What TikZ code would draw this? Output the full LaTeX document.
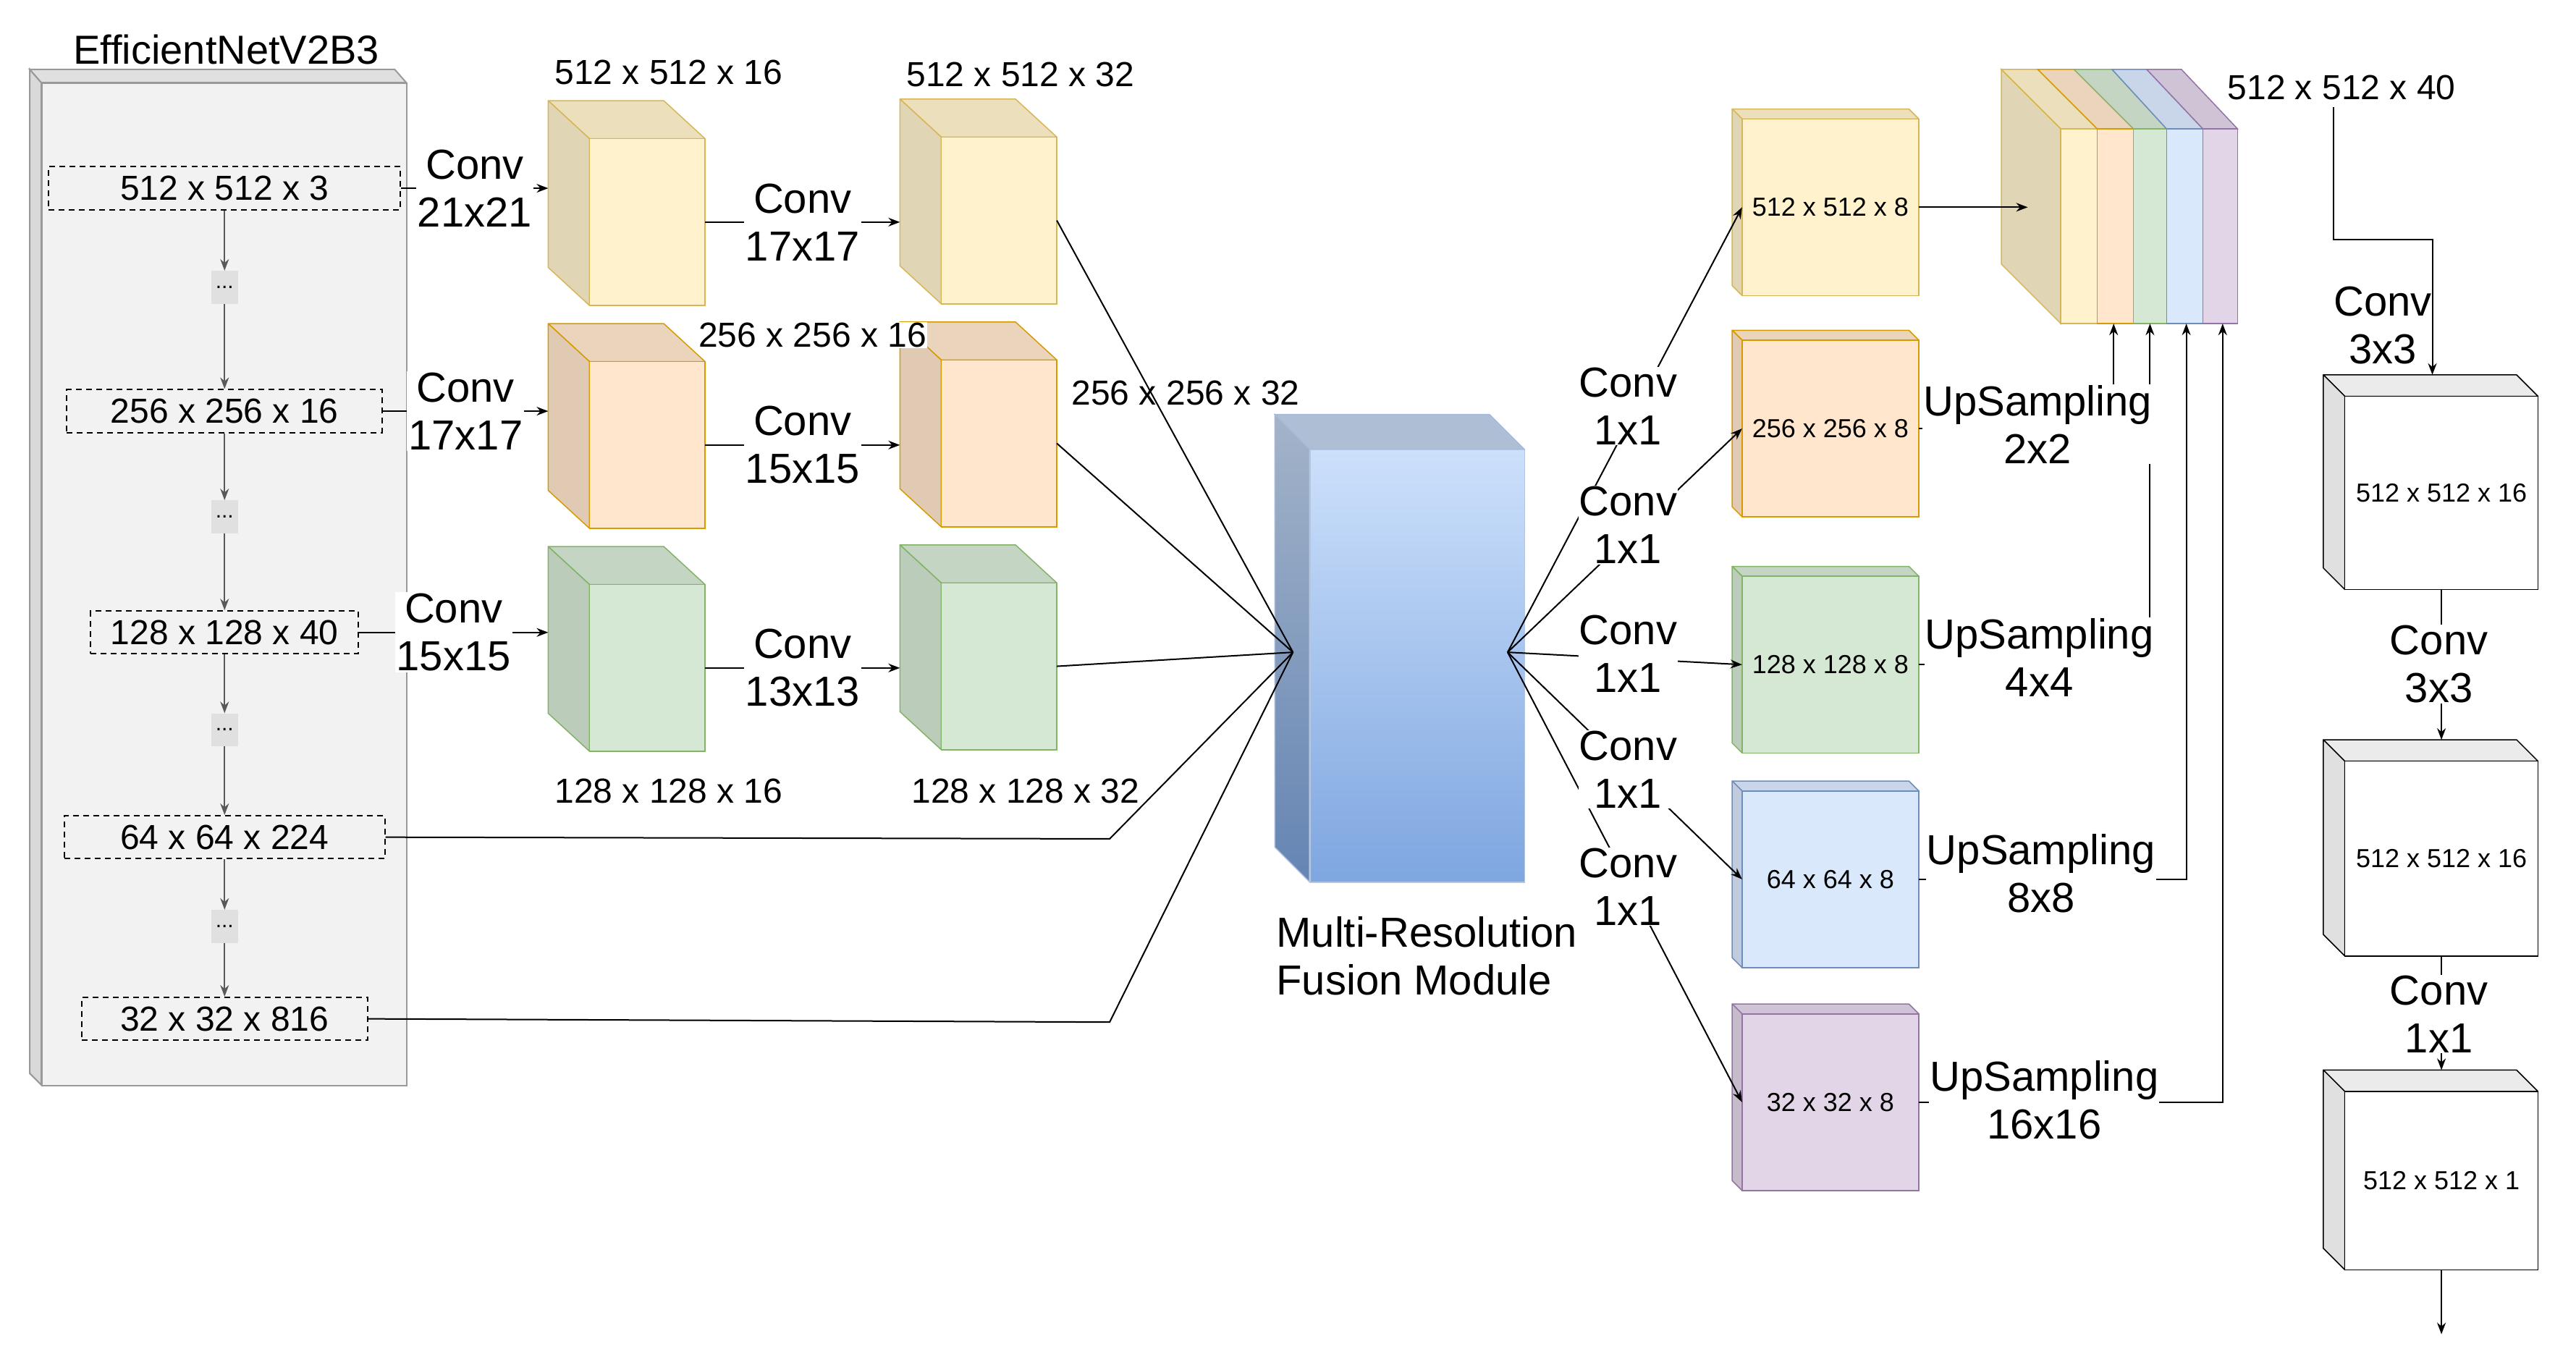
\documentclass[tikz,border=0pt]{standalone}
\usepackage{fontspec}
\setmainfont{Liberation Sans}
\usetikzlibrary{arrows.meta}
\definecolor{yf}{HTML}{FFF2CC}\definecolor{yd}{HTML}{D6B656}
\definecolor{of}{HTML}{FFE6CC}\definecolor{od}{HTML}{D79B00}
\definecolor{gf}{HTML}{D5E8D4}\definecolor{gd}{HTML}{82B366}
\definecolor{bf}{HTML}{DAE8FC}\definecolor{bd}{HTML}{6C8EBF}
\definecolor{pf}{HTML}{E1D5E7}\definecolor{pd}{HTML}{9673A6}
\definecolor{ftop}{HTML}{CCE0FB}\definecolor{fbot}{HTML}{7EA6E0}
\newcommand\cubeN[9]{%
 \draw[#9, fill=#8!92!black, line width=1.5pt, line join=round] (#2,#3) -- ({#2-#6},{#3-#7}) -- ({#2+#4-#6},{#3-#7}) -- ({#2+#4},#3) -- cycle;
 \draw[#9, fill=#8!88!black, line width=1.5pt, line join=round] (#2,#3) -- ({#2-#6},{#3-#7}) -- ({#2-#6},{#3+#5-#7}) -- (#2,{#3+#5}) -- cycle;
 \node[draw=#9, fill=#8, line width=1.5pt, anchor=north west, inner sep=0pt, outer sep=0pt, minimum width={#4*2.2814pt}, minimum height={#5*2.2814pt}] (#1) at (#2,#3) {};
 \coordinate (#1-l) at ({#2-#6},{#3+#5/2-#7/2});
 \coordinate (#1-t) at ({#2+#4/2},{#3-#7});
}
\begin{document}
\begin{tikzpicture}[x=2.2814pt,y=-2.2814pt,
 big/.style={font=\fontsize{58}{66}\selectfont, align=center, inner sep=2pt},
 mid/.style={font=\fontsize{48}{54}\selectfont, inner sep=2pt},
 sml/.style={font=\fontsize{36}{42}\selectfont},
 dbox/.style={draw, dashed, line width=2pt, dash pattern=on 8pt off 6pt, mid, inner sep=0pt, minimum height={26*2.2814pt}, fill=none},
 ln/.style={line width=2pt},
 arr/.style={line width=2pt, -{Stealth[length=16pt,width=12pt]}},
 wb/.style={fill=white}]
\useasboundingbox (0,0) rectangle (1560,823.6);
% backbone
\draw[gray!80, line width=2pt, fill=black!15] (25,50) -- (18,42) -- (18,650) -- (25,657) -- cycle;
\draw[gray!80, line width=2pt, fill=black!12] (25,50) -- (18,42) -- (239,42) -- (246,50) -- cycle;
\node[draw=gray!80, line width=2pt, fill=black!5, anchor=north west, inner sep=0pt, minimum width={221*2.2814pt}, minimum height={607*2.2814pt}] (bb) at (25,50) {};
\node[font=\fontsize{56}{60}\selectfont] (title) at (137,30) {EfficientNetV2B3};
\node[dbox, minimum width={213*2.2814pt}] (b1) at (136,114) {512 x 512 x 3};
\node[dbox, minimum width={191*2.2814pt}] (b2) at (136,249) {256 x 256 x 16};
\node[dbox, minimum width={162*2.2814pt}] (b3) at (136,383) {128 x 128 x 40};
\node[dbox, minimum width={194*2.2814pt}] (b4) at (136,507) {64 x 64 x 224};
\node[dbox, minimum width={173*2.2814pt}] (b5) at (136,617) {32 x 32 x 816};
\foreach \n/\y in {d1/174,d2/313,d3/442,d4/561}{
 \node[fill=black!12, minimum width={16*2.2814pt}, minimum height={20*2.2814pt}, inner sep=0pt, font=\fontsize{30}{30}\selectfont] (\n) at (136,\y) {...};}
\draw[arr, gray!70!black] (b1) -- (d1); \draw[arr, gray!70!black] (d1) -- (b2);
\draw[arr, gray!70!black] (b2) -- (d2); \draw[arr, gray!70!black] (d2) -- (b3);
\draw[arr, gray!70!black] (b3) -- (d3); \draw[arr, gray!70!black] (d3) -- (b4);
\draw[arr, gray!70!black] (b4) -- (d4); \draw[arr, gray!70!black] (d4) -- (b5);
% cubes
\cubeN{cy1}{357}{84}{70}{101}{25}{23}{yf}{yd}
\cubeN{cy2}{570}{83}{70}{101}{25}{23}{yf}{yd}
\cubeN{co1}{357}{219}{70}{101}{25}{23}{of}{od}
\cubeN{co2}{570}{218}{70}{101}{25}{23}{of}{od}
\cubeN{cg1}{357}{354}{70}{101}{25}{23}{gf}{gd}
\cubeN{cg2}{570}{353}{70}{101}{25}{23}{gf}{gd}
\node[mid] (t1) at (405,44) {512 x 512 x 16};
\node[mid] (t2) at (618,45) {512 x 512 x 32};
\node[mid, fill=white, inner sep=1pt] (t3) at (492,203) {256 x 256 x 16};
\node[mid] (t4) at (718,238) {256 x 256 x 32};
\node[mid] (t5) at (405,479) {128 x 128 x 16};
\node[mid] (t6) at (621,479) {128 x 128 x 32};
\draw[arr] (b1.east) -- node[big, wb] {Conv\\21x21} (b1.east -| cy1-l);
\draw[arr] (b2.east) -- node[big, wb] {Conv\\17x17} (b2.east -| co1-l);
\draw[arr] (b3.east) -- node[big, wb] {Conv\\15x15} (b3.east -| cg1-l);
\draw[arr] (cy1.east) -- node[big, wb] {Conv\\17x17} (cy1.east -| cy2-l);
\draw[arr] (co1.east) -- node[big, wb] {Conv\\15x15} (co1.east -| co2-l);
\draw[arr] (cg1.east) -- node[big, wb] {Conv\\13x13} (cg1.east -| cg2-l);
% fusion module
\shade[top color=ftop!85!black, bottom color=ftop!85!black, draw=bd!60, line width=1.5pt] (793,272) -- (772,251) -- (902,251) -- (923,272) -- cycle;
\shade[top color=ftop!80!black, bottom color=fbot!80!black, draw=bd!60, line width=1.5pt] (793,272) -- (772,251) -- (772,513) -- (793,534) -- cycle;
\node[top color=ftop, bottom color=fbot, draw=bd!50, line width=1.5pt, anchor=north west, inner sep=0pt, minimum width={130*2.2814pt}, minimum height={262*2.2814pt}] (mrf) at (793,272) {};
\coordinate (mrfl) at (783,395);
\coordinate (mrfr) at (913,395);
\node[big, align=left, anchor=west] (mrft) at (772,579) {Multi-Resolution\\Fusion Module};
\coordinate (k4) at (672,508);
\coordinate (k5) at (672,619);
\draw[ln] (cy2.east) -- (mrfl);
\draw[ln] (co2.east) -- (mrfl);
\draw[ln] (cg2.east) -- (mrfl);
\draw[ln] (b4.east) -- (k4) -- (mrfl);
\draw[ln] (b5.east) -- (k5) -- (mrfl);
% right boxes
\cubeN{sy}{1055}{72}{107}{107}{6}{6}{yf}{yd}
\cubeN{so}{1055}{206}{107}{107}{6}{6}{of}{od}
\cubeN{sg}{1055}{349}{107}{107}{6}{6}{gf}{gd}
\cubeN{sb}{1055}{479}{107}{107}{6}{6}{bf}{bd}
\cubeN{sp}{1055}{614}{107}{107}{6}{6}{pf}{pd}
\node[sml] at (sy) {512 x 512 x 8};
\node[sml] at (so) {256 x 256 x 8};
\node[sml] at (sg) {128 x 128 x 8};
\node[sml] at (sb) {64 x 64 x 8};
\node[sml] at (sp) {32 x 32 x 8};
\draw[arr] (mrfr) -- (sy.west);
\draw[arr] (mrfr) -- (so.west);
\draw[arr] (mrfr) -- (sg.west);
\draw[arr] (mrfr) -- (sb.west);
\draw[arr] (mrfr) -- (sp.west);
\node[big, wb, inner sep=1pt] (k1) at (986,246) {Conv\\1x1};
\node[big, wb, inner sep=1pt] (k2) at (986,318) {Conv\\1x1};
\node[big, wb, inner sep=1pt] (k3) at (986,396) {Conv\\1x1};
\node[big, wb, inner sep=1pt] (k4b) at (986,466) {Conv\\1x1};
\node[big, wb, inner sep=1pt] (k5b) at (986,537) {Conv\\1x1};
% concat stack
\draw[yd, fill=yf!88!black, line width=1.5pt] (1212,42) -- (1248,78) -- (1248,196) -- (1212,160) -- cycle;
\foreach \bx/\bn/\fx/\fn/\cf/\cd in {1212/1234/1248/1270/yf/yd,1234/1256/1270/1292/of/od,1256/1279/1292/1312/gf/gd,1279/1300/1312/1334/bf/bd,1300/1321/1334/1355/pf/pd}{
 \draw[\cd, fill=\cf!92!black, line width=1.5pt] (\bx,42) -- (\bn,42) -- (\fn,78) -- (\fx,78) -- cycle;
 \draw[\cd, fill=\cf, line width=1.5pt] (\fx,78) rectangle (\fn,196);}
\coordinate (catin) at (1228,117);
\draw[arr] (sy.east) -- (sy.east -| catin);
\coordinate (u1) at (1280,196);
\coordinate (u2) at (1302,196);
\coordinate (u3) at (1324,196);
\coordinate (u4) at (1346,196);
\draw[arr] (so.east) -| (u1);
\draw[arr] (sg.east) -| (u2);
\draw[arr] (sb.east) -| (u3);
\draw[arr] (sp.east) -| (u4);
\node[big, wb, inner sep=1pt] (up1) at (1234,257) {UpSampling\\2x2};
\node[big, wb, inner sep=1pt] (up2) at (1235,398) {UpSampling\\4x4};
\node[big, wb, inner sep=1pt] (up3) at (1236,529) {UpSampling\\8x8};
\node[big, wb, inner sep=1pt] (up4) at (1238,666) {UpSampling\\16x16};
\node[mid] (t40) at (1418,53) {512 x 512 x 40};
% final cubes
\cubeN{w1}{1420}{240}{117}{117}{13}{13}{white}{black}
\cubeN{w2}{1420}{461}{117}{118}{13}{13}{white}{black}
\cubeN{w3}{1420}{661}{117}{108}{13}{13}{white}{black}
\node[sml] at (w1) {512 x 512 x 16};
\node[sml] at (w2) {512 x 512 x 16};
\node[sml] at (w3) {512 x 512 x 1};
\coordinate (p1) at (1413,65);
\coordinate (pm) at (1473,145);
\coordinate (w1in) at (1473,227);
\draw[arr] (p1) |- (pm) -- (w1in);
\node[big] (c33) at (1443,197) {Conv\\3x3};
\draw[arr] (w1.south) -- (w2-t);
\draw[arr] (w2.south) -- (w3-t);
\node[big, wb, inner sep=1pt] (c33b) at (1477,402) {Conv\\3x3};
\node[big, wb, inner sep=1pt] (c11) at (1477,614) {Conv\\1x1};
\coordinate (endc) at (1478.5,808);
\draw[arr] (w3.south) -- (endc);
\end{tikzpicture}
\end{document}
